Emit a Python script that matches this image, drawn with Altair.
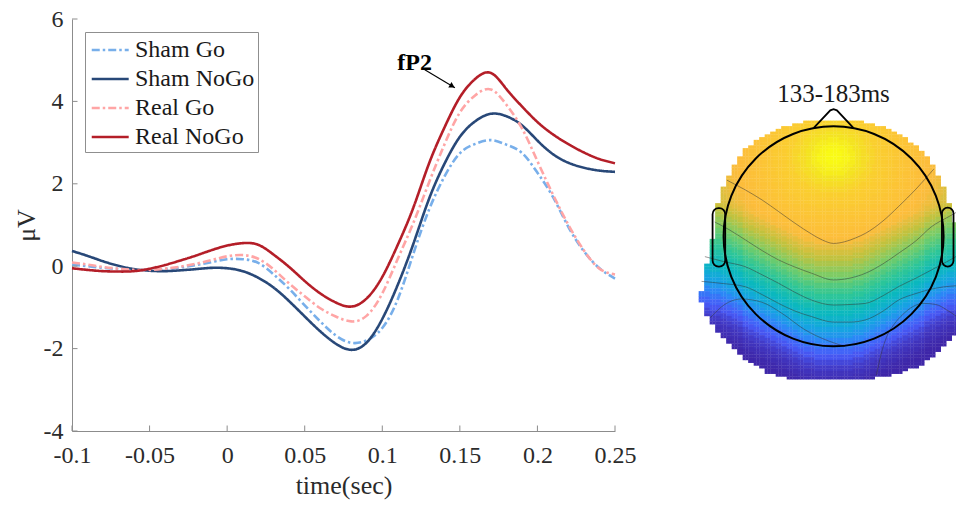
import math
import altair as alt
import pandas as pd

FONT = "Liberation Serif"

# ---------------- ERP waveforms ----------------
time_sec = [-0.10, -0.09, -0.08, -0.07, -0.06, -0.05, -0.04, -0.03, -0.02, -0.01,
            0.00, 0.01, 0.02, 0.03, 0.04, 0.05, 0.06, 0.07, 0.08, 0.09,
            0.10, 0.11, 0.12, 0.13, 0.14, 0.15, 0.16, 0.17, 0.18, 0.19,
            0.20, 0.21, 0.22, 0.23, 0.24, 0.25]

sham_go = [0.04, 0.00, -0.04, -0.07, -0.09, -0.09, -0.07, -0.03, 0.03, 0.10,
           0.17, 0.17, 0.08, -0.20, -0.55, -0.95, -1.34, -1.68, -1.86, -1.80,
           -1.50, -0.80, 0.30, 1.36, 2.17, 2.74, 2.97, 3.06, 2.95, 2.75,
           2.27, 1.68, 0.95, 0.36, -0.05, -0.30]

sham_nogo = [0.37, 0.25, 0.12, 0.01, -0.07, -0.11, -0.12, -0.10, -0.07, -0.04,
             -0.05, -0.12, -0.28, -0.52, -0.85, -1.22, -1.58, -1.88, -2.03, -1.85,
             -1.28, -0.45, 0.54, 1.62, 2.48, 3.14, 3.52, 3.70, 3.64, 3.42,
             3.05, 2.72, 2.51, 2.39, 2.32, 2.29]

real_go = [0.09, 0.04, -0.02, -0.06, -0.09, -0.09, -0.06, -0.01, 0.06, 0.15,
           0.24, 0.27, 0.18, -0.08, -0.42, -0.73, -1.02, -1.22, -1.34, -1.20,
           -0.66, 0.18, 1.05, 2.02, 2.95, 3.73, 4.15, 4.29, 3.92, 3.35,
           2.55, 1.74, 1.00, 0.38, -0.06, -0.20]

real_nogo = [-0.05, -0.09, -0.12, -0.13, -0.12, -0.06, 0.03, 0.14, 0.26, 0.39,
             0.50, 0.56, 0.52, 0.28, -0.02, -0.36, -0.66, -0.88, -0.98, -0.78,
             -0.26, 0.52, 1.42, 2.48, 3.36, 4.10, 4.55, 4.69, 4.30, 3.88,
             3.50, 3.20, 2.96, 2.76, 2.60, 2.50]

series_names = ["Sham Go", "Sham NoGo", "Real Go", "Real NoGo"]
series_colors = ["#78afea", "#284878", "#ffa5a5", "#b41e28"]
series_dash = [[8, 3, 2.5, 3], [1, 0], [8, 3, 2.5, 3], [1, 0]]

x_ticks = [-0.1, -0.05, 0, 0.05, 0.1, 0.15, 0.2, 0.25]
y_ticks = [-4, -2, 0, 2, 4, 6]

# annotation
fp2_text = "fP2"
fp2_pos = [0.1208, 4.76]
arrow_from = [0.1274, 4.77]
arrow_to = [0.1468, 4.33]
arrow_head = [0.1451, 4.37]

# ---------------- Topography (head units, radius 1) ----------------
topo_title = "133-183ms"
blob_cols = [round(-1.2 + 0.05 * i, 2) for i in range(48)]
blob_top = [-0.50, -0.27, -0.03, 0.30, 0.43, 0.55, 0.65, 0.72, 0.78, 0.82,
            0.86, 0.89, 0.92, 0.95, 0.97, 0.99, 1.00, 1.01, 1.02, 1.03,
            1.03, 1.04, 1.04, 1.04, 1.04, 1.04, 1.04, 1.04, 1.03, 1.03,
            1.02, 1.01, 1.00, 0.98, 0.96, 0.94, 0.91, 0.88, 0.85, 0.81,
            0.77, 0.72, 0.64, 0.55, 0.45, 0.30, 0.12, 0.00]
blob_bot = [-0.60, -0.72, -0.79, -0.86, -0.92, -0.97, -1.02, -1.07, -1.11, -1.14,
            -1.17, -1.20, -1.23, -1.25, -1.26, -1.27, -1.28, -1.285, -1.29, -1.295,
            -1.30, -1.30, -1.30, -1.30, -1.30, -1.30, -1.30, -1.295, -1.29, -1.29,
            -1.285, -1.28, -1.27, -1.265, -1.26, -1.25, -1.24, -1.22, -1.20, -1.18,
            -1.16, -1.12, -1.08, -1.03, -0.98, -0.93, -0.88, -0.83]
# contour rise toward the sides, by |x| in steps of 0.05
dip_by_absx = [0.0, 0.002, 0.006, 0.012, 0.022, 0.035, 0.05, 0.07, 0.095, 0.12,
               0.145, 0.17, 0.2, 0.225, 0.255, 0.28, 0.31, 0.34, 0.37, 0.395,
               0.42, 0.44, 0.46, 0.475, 0.485]
# level along the midline, from 0.5 downward in steps of 0.05
center_profile = [1.0, 1.0, 1.0, 1.0, 0.99, 0.97, 0.95, 0.92, 0.89, 0.86,
                  0.82, 0.79, 0.76, 0.73, 0.70, 0.67, 0.64, 0.61, 0.58, 0.55,
                  0.52, 0.49, 0.46, 0.43, 0.40, 0.37, 0.33, 0.29, 0.25, 0.20,
                  0.16, 0.12, 0.09, 0.06, 0.04, 0.025, 0.015, 0.005, 0, 0,
                  0, 0, 0, 0, 0, 0, 0]
# level around the frontal maximum, by distance in steps of 0.05
spot_falloff = [1.0, 0.995, 0.985, 0.97, 0.952, 0.932, 0.913, 0.897, 0.882, 0.869,
                0.857, 0.847, 0.837, 0.827, 0.817, 0.806, 0.794, 0.779, 0.762, 0.744,
                0.725, 0.705, 0.685, 0.665, 0.645, 0.625, 0.607, 0.59, 0.575, 0.56,
                0.545]
spot_center = [0.0, 0.72]

parula_pos = [0.0, 0.1, 0.2, 0.3, 0.4, 0.5, 0.6, 0.7, 0.8, 0.9, 0.95, 1.0]
parula_cols = ["#3e26a8", "#475bf9", "#2b87f6", "#14a6e0", "#0bb8be", "#2ec696",
               "#76cc67", "#c1c23e", "#fdbc3c", "#fad02e", "#f4e222", "#f9fb14"]

contour_1 = [(-0.97, 0.51), (-0.8, 0.42), (-0.65, 0.33), (-0.5, 0.225), (-0.35, 0.118),
             (-0.2, 0.02), (-0.1, -0.035), (0.0, -0.065), (0.1, -0.05), (0.2, -0.015),
             (0.29, 0.027), (0.45, 0.14), (0.59, 0.27), (0.75, 0.43), (0.91, 0.61)]
contour_2 = [(-1.08, 0.13), (-0.95, 0.06), (-0.8, -0.034), (-0.65, -0.13), (-0.5, -0.215),
             (-0.35, -0.28), (-0.2, -0.336), (0.0, -0.397), (0.15, -0.38), (0.29, -0.336),
             (0.45, -0.25), (0.59, -0.155), (0.75, -0.04), (0.89, 0.087), (1.05, 0.18), (1.12, 0.22)]
contour_3 = [(-1.17, -0.185), (-1.0, -0.23), (-0.805, -0.276), (-0.65, -0.35), (-0.5, -0.427),
             (-0.35, -0.51), (-0.2, -0.58), (0.0, -0.625), (0.15, -0.62), (0.29, -0.61),
             (0.45, -0.54), (0.59, -0.458), (0.75, -0.38), (0.89, -0.306), (1.05, -0.22), (1.12, -0.18)]
contour_4 = [(-1.2, -0.41), (-1.0, -0.43), (-0.805, -0.458), (-0.65, -0.53), (-0.5, -0.61),
             (-0.35, -0.68), (-0.2, -0.73), (0.0, -0.78), (0.15, -0.78), (0.29, -0.76),
             (0.45, -0.68), (0.59, -0.58), (0.75, -0.52), (0.85, -0.49), (1.0, -0.46), (1.12, -0.45)]
contour_5 = [(-1.12, -0.74), (-0.99, -0.62), (-0.84, -0.57), (-0.65, -0.6), (-0.47, -0.7),
             (-0.26, -0.85), (-0.05, -0.95), (0.1, -1.0)]
contour_6 = [(0.39, -1.26), (0.43, -1.08), (0.48, -0.92), (0.55, -0.8), (0.63, -0.71),
             (0.72, -0.64), (0.82, -0.61), (0.93, -0.62), (1.03, -0.67), (1.12, -0.73)]
contours = [contour_1, contour_2, contour_3, contour_4, contour_5, contour_6]

nose = [(-0.18, 0.985), (-0.03, 1.145), (0.0, 1.155), (0.03, 1.145), (0.18, 0.985)]
ears = [(-1.10, -0.985, -0.275, 0.255), (0.985, 1.09, -0.275, 0.26)]
topo_title_pos = [0.0, 1.224]

# ---------------- tables ----------------
wave_rows = []
for name, vals in zip(series_names, [sham_go, sham_nogo, real_go, real_nogo]):
    for t, v in zip(time_sec, vals):
        wave_rows.append({"series": name, "t": t, "v": v})
wave_df = pd.DataFrame(wave_rows)


def pick(table, idx):
    return table[max(0, min(len(table) - 1, idx))]


STEP = 0.025
grid_cols = [round(-1.2125 + STEP * i, 4) for i in range(96)]
grid_rows = [round(1.0625 - STEP * i, 4) for i in range(96)]
half = STEP / 2 + 0.0015
cells = []
for cx in grid_cols:
    bi = int(round((cx + 1.2) / 0.05))
    if bi < 0 or bi >= len(blob_cols):
        continue
    for cy in grid_rows:
        if cy > blob_top[bi] + 0.012 or cy < blob_bot[bi] - 0.012:
            continue
        d = pick(dip_by_absx, int(round(abs(cx) / 0.05)))
        p = pick(center_profile, int(round((0.5 - (cy - d)) / 0.05)))
        r = math.hypot(0.87 * (cx - spot_center[0]), cy - spot_center[1])
        q = pick(spot_falloff, int(round(r / 0.05)))
        cells.append({"x0": cx - half, "x1": cx + half, "y0": cy - half, "y1": cy + half,
                      "val": min(p, q)})
cells_df = pd.DataFrame(cells)

cont_rows = []
for k, c in enumerate(contours):
    for i, (x, y) in enumerate(c):
        cont_rows.append({"c": k, "i": i, "hx": x, "hy": y})
cont_df = pd.DataFrame(cont_rows)

nose_df = pd.DataFrame([{"i": i, "hx": x, "hy": y} for i, (x, y) in enumerate(nose)])
ears_df = pd.DataFrame([{"x0": a, "x1": b, "y0": c, "y1": d} for a, b, c, d in ears])
head_df = pd.DataFrame([{"hx": 0.0, "hy": 0.0}])
ttl_df = pd.DataFrame([{"hx": topo_title_pos[0], "hy": topo_title_pos[1], "txt": topo_title}])

# ---------------- scales ----------------
AX = "#8c8c8c"
LAB = "#2b2b2b"


def xs():
    return alt.Scale(domain=[-0.1, 0.25], nice=False, zero=False)


def ys():
    return alt.Scale(domain=[-4, 6], nice=False, zero=False)


def tx():
    return alt.Scale(domain=[-6.923, -1.987], nice=False, zero=False)


def ty():
    return alt.Scale(domain=[-1.770, 1.975], nice=False, zero=False)


legend = alt.Legend(title=None, orient="none", legendX=13, legendY=13, direction="vertical",
                    padding=3, strokeColor="#8f8f8f", fillColor="white",
                    labelFont=FONT, labelFontSize=24, labelColor="#1a1a1a", labelLimit=400,
                    symbolType="M-0.85,0H1.94", symbolSize=702, symbolStrokeWidth=2.6,
                    labelOffset=17, rowPadding=2)

x_axis = alt.Axis(values=x_ticks, ticks=False, grid=False, domainColor=AX, domainWidth=1,
                  labelFont=FONT, labelFontSize=24, labelColor=LAB, labelPadding=12,
                  labelFlush=False, labelOverlap=False, labelExpr="'' + datum.value",
                  title="time(sec)", titleFont=FONT, titleFontSize=26, titleFontWeight="normal",
                  titleColor=LAB, titleX=271.5, titleY=62, titleAlign="center",
                  titleBaseline="alphabetic")
y_axis = alt.Axis(values=y_ticks, ticks=False, grid=False, domainColor=AX, domainWidth=1,
                  labelFont=FONT, labelFontSize=24, labelColor=LAB, labelPadding=9,
                  labelExpr="'' + datum.value",
                  title="μV", titleFont=FONT, titleFontSize=26, titleFontWeight="normal",
                  titleColor=LAB, titleX=-38, titleY=206, titleAlign="center",
                  titleBaseline="alphabetic", titleAngle=270)

lines = alt.Chart(wave_df).mark_line(strokeWidth=2.6, interpolate="natural").encode(
    x=alt.X("t:Q", scale=xs(), axis=x_axis),
    y=alt.Y("v:Q", scale=ys(), axis=y_axis),
    color=alt.Color("series:N", scale=alt.Scale(domain=series_names, range=series_colors),
                    legend=legend, sort=series_names),
    strokeDash=alt.StrokeDash("series:N", scale=alt.Scale(domain=series_names, range=series_dash),
                              legend=legend, sort=series_names),
)

xt_df = pd.DataFrame({"t": x_ticks})
yt_df = pd.DataFrame({"v": y_ticks})
x_tick_marks = alt.Chart(xt_df).mark_rule(color=AX, strokeWidth=1).encode(
    x=alt.X("t:Q", scale=xs(), axis=None), y=alt.value(412), y2=alt.value(406.5))
y_tick_marks = alt.Chart(yt_df).mark_rule(color=AX, strokeWidth=1).encode(
    y=alt.Y("v:Q", scale=ys(), axis=None), x=alt.value(0), x2=alt.value(5.5))

arrow_df = pd.DataFrame([{"t": arrow_from[0], "v": arrow_from[1], "t2": arrow_to[0], "v2": arrow_to[1]}])
arrow = alt.Chart(arrow_df).mark_rule(color="black", strokeWidth=1.1).encode(
    x=alt.X("t:Q", scale=xs(), axis=None), y=alt.Y("v:Q", scale=ys(), axis=None),
    x2="t2:Q", y2="v2:Q")
head_pt = alt.Chart(pd.DataFrame([{"t": arrow_head[0], "v": arrow_head[1]}])).mark_point(
    shape="triangle-right", angle=31, size=40, filled=True, color="black", opacity=1).encode(
    x=alt.X("t:Q", scale=xs(), axis=None), y=alt.Y("v:Q", scale=ys(), axis=None))
fp2 = alt.Chart(pd.DataFrame([{"t": fp2_pos[0], "v": fp2_pos[1], "txt": fp2_text}])).mark_text(
    font=FONT, fontSize=24, fontWeight="bold", color="black", align="center",
    baseline="alphabetic").encode(
    x=alt.X("t:Q", scale=xs(), axis=None), y=alt.Y("v:Q", scale=ys(), axis=None), text="txt:N")

# topo layers
field = alt.Chart(cells_df).mark_rect(strokeWidth=0).encode(
    x=alt.X("x0:Q", scale=tx(), axis=None), x2="x1:Q",
    y=alt.Y("y0:Q", scale=ty(), axis=None), y2="y1:Q",
    color=alt.Color("val:Q", scale=alt.Scale(domain=parula_pos, range=parula_cols,
                                             interpolate="rgb"), legend=None),
)
cont = alt.Chart(cont_df).mark_line(color="#333333", strokeWidth=0.9, opacity=0.55,
                                    interpolate="monotone").encode(
    x=alt.X("hx:Q", scale=tx(), axis=None), y=alt.Y("hy:Q", scale=ty(), axis=None),
    detail="c:N", order="i:Q")
circle = alt.Chart(head_df).mark_point(shape="circle", size=48400, filled=False, color="black",
                                       strokeWidth=2, opacity=1).encode(
    x=alt.X("hx:Q", scale=tx(), axis=None), y=alt.Y("hy:Q", scale=ty(), axis=None))
nose_l = alt.Chart(nose_df).mark_line(color="black", strokeWidth=1.8).encode(
    x=alt.X("hx:Q", scale=tx(), axis=None), y=alt.Y("hy:Q", scale=ty(), axis=None), order="i:Q")
ears_r = alt.Chart(ears_df).mark_rect(filled=False, stroke="black", strokeWidth=1.8,
                                      cornerRadius=6).encode(
    x=alt.X("x0:Q", scale=tx(), axis=None), x2="x1:Q",
    y=alt.Y("y0:Q", scale=ty(), axis=None), y2="y1:Q")
ttl = alt.Chart(ttl_df).mark_text(font=FONT, fontSize=25, color="#1a1a1a", align="center",
                                  baseline="alphabetic").encode(
    x=alt.X("hx:Q", scale=tx(), axis=None), y=alt.Y("hy:Q", scale=ty(), axis=None), text="txt:N")

chart = alt.layer(
    lines, x_tick_marks, y_tick_marks, arrow, head_pt, fp2,
    field, cont, circle, nose_l, ears_r, ttl,
).resolve_scale(
    x="independent", y="independent", color="independent", strokeDash="independent"
).properties(
    width=543, height=412,
    background="white",
    autosize=alt.AutoSizeParams(type="none"),
    padding={"left": 72, "top": 19, "right": 341, "bottom": 76},
).configure_view(
    stroke=None
).configure_axis(
    labelFont=FONT, titleFont=FONT
).configure_legend(
    labelFont=FONT
).configure_text(
    font=FONT
)

chart.save("out.html", embed_options={"renderer": "svg", "actions": False})
